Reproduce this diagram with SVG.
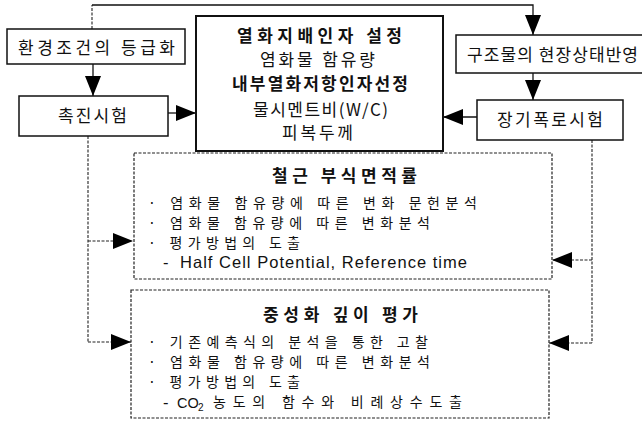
<svg xmlns="http://www.w3.org/2000/svg" width="642" height="424" viewBox="0 0 642 424">
<style>
text{font-family:"Noto Sans CJK KR","Noto Sans",sans-serif;fill:#111}
.n{font-size:17px}
.b{font-size:17px;font-weight:bold}
.s{font-size:14px}
.lat{font-family:"Liberation Sans","Noto Sans CJK KR",sans-serif;font-size:16.5px}
.box{fill:#fff;stroke:#111;stroke-width:1.5}
.main{fill:#fff;stroke:#111;stroke-width:2}
.dbox{fill:#fff;stroke:#222;stroke-width:1.2;stroke-dasharray:3 1.5}
.c{fill:none;stroke:#111;stroke-width:1.3}
.d{fill:none;stroke:#222;stroke-width:1.1;stroke-dasharray:3 1.5}
</style>
<defs>
<marker id="ah" markerUnits="userSpaceOnUse" markerWidth="20" markerHeight="16" refX="20" refY="8" orient="auto">
<path d="M0,0 L20,8 L0,16 Z" fill="#000"/>
</marker>
</defs>
<g id="connectors">
<path class="d" d="M92,29 L92,5"/>
<path class="c" d="M92,5 L533,5 L533,35" marker-end="url(#ah)"/>
<path class="c" d="M93,64 L93,96" marker-end="url(#ah)"/>
<path class="c" d="M168,113 L196,113" marker-end="url(#ah)"/>
<path class="c" d="M533,73 L533,100" marker-end="url(#ah)"/>
<path class="c" d="M477,117 L443,117" marker-end="url(#ah)"/>
<path class="d" d="M88,136 L88,342"/>
<path class="d" d="M88,241 L133,241" marker-end="url(#ah)"/>
<path class="d" d="M88,342 L131,342" marker-end="url(#ah)"/>
<path class="d" d="M592,140 L592,343"/>
<path class="d" d="M592,260 L552,260" marker-end="url(#ah)"/>
<path class="d" d="M592,343 L549,343" marker-end="url(#ah)"/>
</g>
<g id="env">
<rect class="box" x="7" y="29" width="178" height="35"/>
<text class="n" x="18" y="54" textLength="157" lengthAdjust="spacing">환경조건의 등급화</text>
</g>
<g id="accel">
<rect class="box" x="19" y="96" width="149" height="40"/>
<text class="n" x="58" y="122" textLength="69" lengthAdjust="spacing">촉진시험</text>
</g>
<g id="main">
<rect class="main" x="196" y="16" width="247" height="135"/>
<text class="b" x="237" y="41.5" textLength="165" lengthAdjust="spacing">열화지배인자 설정</text>
<text class="n" x="260" y="66" textLength="115" lengthAdjust="spacing">염화물 함유량</text>
<text class="b" x="232" y="90" textLength="176" lengthAdjust="spacing">내부열화저항인자선정</text>
<text class="n" x="253" y="116" textLength="135" lengthAdjust="spacing">물시멘트비(W/C)</text>
<text class="n" x="282" y="139" textLength="71" lengthAdjust="spacing">피복두께</text>
</g>
<g id="site">
<rect class="box" x="456" y="35" width="190" height="38"/>
<text class="n" x="467" y="61" textLength="171" lengthAdjust="spacing">구조물의 현장상태반영</text>
</g>
<g id="exposure">
<rect class="box" x="477" y="100" width="146" height="40"/>
<text class="n" x="497" y="126" textLength="106" lengthAdjust="spacing">장기폭로시험</text>
</g>
<g id="corrosion">
<rect class="dbox" x="134" y="153" width="418" height="126"/>
<text class="b" x="272" y="181.5" textLength="145" lengthAdjust="spacing">철근 부식면적률</text>
<text class="s" x="148" y="207.5" textLength="329" lengthAdjust="spacing">· 염화물 함유량에 따른 변화 문헌분석</text>
<text class="s" x="148" y="227.5" textLength="282" lengthAdjust="spacing">· 염화물 함유량에 따른 변화분석</text>
<text class="s" x="148" y="247.5" textLength="152" lengthAdjust="spacing">· 평가방법의 도출</text>
<text class="lat" x="163" y="268">-</text>
<text class="lat" x="180" y="268" textLength="287" lengthAdjust="spacing">Half Cell Potential, Reference time</text>
</g>
<g id="carbonation">
<rect class="dbox" x="131" y="290" width="418" height="128"/>
<text class="b" x="263" y="321" textLength="155" lengthAdjust="spacing">중성화 깊이 평가</text>
<text class="s" x="148" y="347" textLength="280" lengthAdjust="spacing">· 기존예측식의 분석을 통한 고찰</text>
<text class="s" x="148" y="367" textLength="282" lengthAdjust="spacing">· 염화물 함유량에 따른 변화분석</text>
<text class="s" x="148" y="387" textLength="152" lengthAdjust="spacing">· 평가방법의 도출</text>
<text class="lat" x="163" y="407.5">-</text>
<text class="lat" x="177" y="407.5" style="font-size:14.5px">CO</text>
<text class="lat" x="198" y="410.5" style="font-size:10px">2</text>
<text class="s" x="213" y="407" textLength="249" lengthAdjust="spacing">농도의 함수와 비례상수도출</text>
</g>
</svg>
